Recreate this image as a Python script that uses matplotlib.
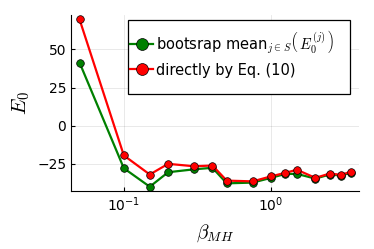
import numpy as np
import matplotlib
matplotlib.use("Agg")
import matplotlib.pyplot as plt
from matplotlib.font_manager import FontProperties
from matplotlib.patches import Rectangle

# values
beta = [0.05, 0.1, 0.15, 0.2, 0.3, 0.4, 0.5, 0.75, 1.0, 1.25, 1.5, 2.0, 2.5, 3.0, 3.5]
e0_boot = [41.4, -27.9, -40.0, -30.5, -28.6, -27.6, -37.8, -37.3, -34.2, -31.6, -31.6, -34.7, -32.0, -32.7, -30.7]
e0_direct = [69.7, -19.5, -32.0, -25.0, -26.6, -26.1, -36.0, -36.5, -33.2, -30.9, -28.9, -34.2, -31.4, -32.2, -30.1]

yticks = [-25, 0, 25, 50]
xticks = [0.1, 1.0]
xticklabels = [r'$10^{-1}$', r'$10^{0}$']

fig = plt.figure(figsize=(3.74, 2.49), dpi=100)
ax = fig.add_axes([0.19, 0.233, 0.77, 0.707])

ax.plot(beta, e0_boot, color='green', lw=1.6, marker='o', ms=5.5,
        mfc='green', mec='black', mew=0.5, label=r'bootsrap mean$_{j\in\,S}\left(\,E_0^{(j)}\,\right)$')
ax.plot(beta, e0_direct, color='red', lw=1.6, marker='o', ms=5.5,
        mfc='red', mec='black', mew=0.5, label='directly by Eq. (10)')

ax.set_xscale('log')
ax.set_xlim(0.0438, 3.96)
ax.set_ylim(-42.8, 72.6)
ax.set_xticks(xticks)
ax.set_xticklabels(xticklabels)
ax.xaxis.set_minor_locator(matplotlib.ticker.NullLocator())
ax.set_yticks(yticks)
ax.tick_params(direction='in', length=3, labelsize=10, width=0.8)
ax.grid(True, color='black', alpha=0.1, lw=0.6)

for s in ['top', 'right']:
    ax.spines[s].set_visible(False)

ax.set_ylabel(r'$E_0$', fontsize=15, math_fontfamily='cm', labelpad=4)
ax.set_xlabel(r'$\beta_{MH}$', fontsize=14, math_fontfamily='cm', labelpad=6)

# legend box drawn by hand (GR-style padding)
ax.add_patch(Rectangle((0.198, 0.551), 0.771, 0.421, transform=ax.transAxes,
                       facecolor='white', edgecolor='black', lw=0.9, zorder=4))
leg = ax.legend(loc='center left', bbox_to_anchor=(0.205, 0.784), borderaxespad=0,
                prop=FontProperties(size=10.5, math_fontfamily='cm'), frameon=False,
                handlelength=1.6, handletextpad=0.2, borderpad=0, labelspacing=0.45,
                markerscale=1.55)
leg.set_zorder(5)

fig.savefig('out.png', dpi=100)
